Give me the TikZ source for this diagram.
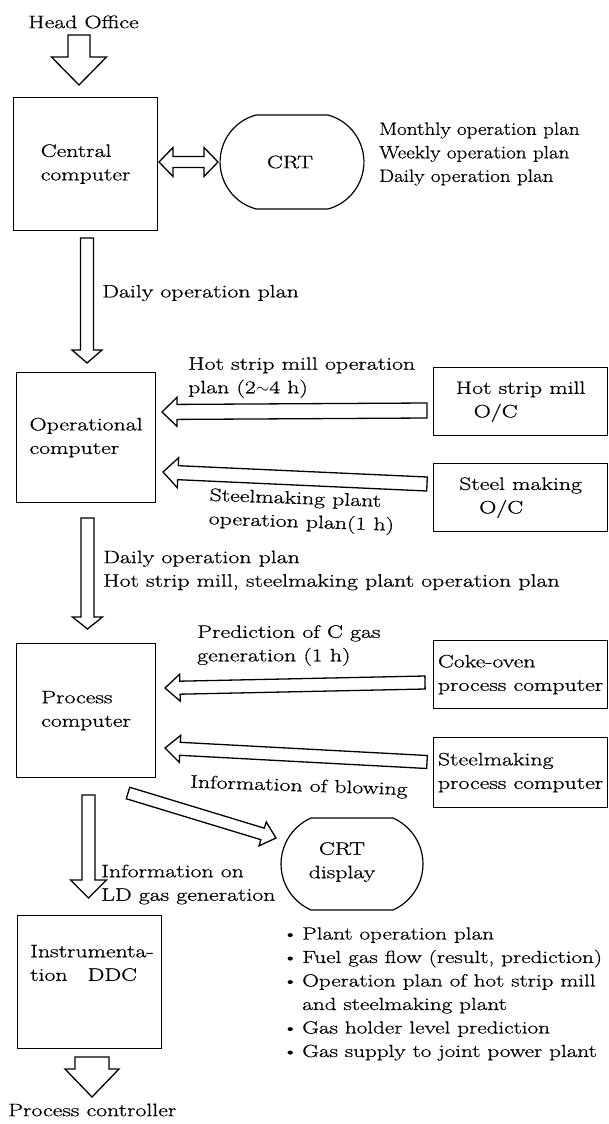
\documentclass[tikz,border=0pt]{standalone}
\usepackage{fontspec}
\setmainfont{Latin Modern Roman}[FakeStretch=1.32, FakeBold=0.7]
\newfontfamily\plansfont{Latin Modern Roman}[FakeStretch=1.17, FakeBold=0.7]
\usetikzlibrary{calc}

% block arrow: #1 tail, #2 tip, #3 shaft half width, #4 head half width, #5 head length
\newcommand\blockarr[5]{%
  \coordinate (bh) at ($(#2)!#5!(#1)$);
  \draw[barr] ($(#1)!#3!90:(#2)$) -- ($(bh)!#3!90:(#2)$) -- ($(bh)!#4!90:(#2)$) -- (#2)
    -- ($(bh)!#4!-90:(#2)$) -- ($(bh)!#3!-90:(#2)$) -- ($(#1)!#3!-90:(#2)$) -- cycle;}
% double-headed block arrow
\newcommand\dblarr[5]{%
  \coordinate (bha) at ($(#1)!#5!(#2)$);
  \coordinate (bhb) at ($(#2)!#5!(#1)$);
  \draw[barr] (#1) -- ($(bha)!#4!90:(#2)$) -- ($(bha)!#3!90:(#2)$) -- ($(bhb)!#3!90:(#2)$)
    -- ($(bhb)!#4!90:(#2)$) -- (#2) -- ($(bhb)!#4!-90:(#2)$) -- ($(bhb)!#3!-90:(#2)$)
    -- ($(bha)!#3!-90:(#2)$) -- ($(bha)!#4!-90:(#2)$) -- cycle;}
\newcommand\bdot{\raisebox{1pt}{\fontsize{14}{14}\selectfont\textbullet}}

\begin{document}
\begin{tikzpicture}[x=1pt,y=-1pt,
  font=\fontsize{18}{23.5}\selectfont,
  boxnode/.style={draw, line width=1.2pt, inner sep=0pt, align=left, anchor=north west},
  txt/.style={inner sep=0pt, align=left, anchor=west},
  barr/.style={draw, line width=1.3pt, line join=miter, fill=white},
  crtline/.style={draw, line width=1.2pt}]
\useasboundingbox (0,0) rectangle (608,1124);

% ---------- boxes ----------
\node[boxnode, minimum width=144pt, minimum height=133pt] (central) at (13,97) {Central\\computer};
\node[boxnode, minimum width=139pt, minimum height=130pt] (oper) at (16,372) {Operational\\computer};
\node[boxnode, minimum width=174pt, minimum height=68pt] (hsm) at (433,367) {Hot strip mill\\\hspace*{18pt}O/C};
\node[boxnode, minimum width=174pt, minimum height=68pt] (smk) at (433,463) {Steel making\\\hspace*{20pt}O/C};
\node[boxnode, minimum width=139pt, minimum height=134pt] (proc) at (16,643) {Process\\computer};
\node[boxnode, minimum width=174pt, minimum height=68pt] (coke) at (433,640) {Coke-oven\\process computer};
\node[boxnode, minimum width=174pt, minimum height=70pt] (smp) at (433,737) {Steelmaking\\process computer};
\node[boxnode, minimum width=144pt, minimum height=133pt] (instr) at (17,915) {};
\node[txt] (instrtxt) at (30,963) {Instrumenta-\\tion\hspace{20pt}DDC};

% ---------- CRT shapes ----------
\draw[crtline] (328,115) arc[start angle=-74.8, end angle=74.8, radius=48.7] -- (256,209)
  arc[start angle=105.2, end angle=254.8, radius=48.7] -- cycle;
\node[inner sep=0pt] (crt) at (290,162) {CRT};
\draw[crtline] (393,818) arc[start angle=-66.2, end angle=66.2, radius=50.27] -- (311,910)
  arc[start angle=113.8, end angle=246.2, radius=50.27] -- cycle;
\node[inner sep=0pt, align=center] (crtd) at (342,862) {CRT\\display};

% ---------- texts ----------
\node[txt] (head) at (28,22) {Head Office};
\node[txt, font=\fontsize{18}{23.5}\plansfont] (plans) at (379,154) {Monthly operation plan\\Weekly operation plan\\Daily operation plan};
\node[txt] (daily1) at (102,293) {Daily operation plan};
\node[txt] (hsmlab) at (188,377.5) {Hot strip mill operation\\plan (2$\sim$4 h)};
\node[txt, rotate=-2] (smklab) at (209,508.5) {Steelmaking plant\\operation plan(1 h)};
\node[txt] (daily2) at (103,570.5) {Daily operation plan\\Hot strip mill, steelmaking plant operation plan};
\node[txt] (cokelab) at (197,645.5) {Prediction of C gas\\generation (1 h)};
\node[txt, rotate=-2] (blowlab) at (190,783) {Information of blowing};
\node[txt] (ldlab) at (101,884.5) {Information on\\LD gas generation};
\node[txt, font=\fontsize{17.5}{23.5}\selectfont] (bullets) at (283,993.5) {\begin{tabular}{@{}l@{\hspace{5pt}}l@{}}
\bdot & Plant operation plan\\
\bdot & Fuel gas flow (result, prediction)\\
\bdot & Operation plan of hot strip mill\\
      & and steelmaking plant\\
\bdot & Gas holder level prediction\\
\bdot & Gas supply to joint power plant
\end{tabular}};
\node[txt] (pc) at (8,1110) {Process controller};

% ---------- arrow end points ----------
\coordinate (a0s) at (79,35);    \coordinate (a0e) at (79,85);
\coordinate (dbs) at (159,162);  \coordinate (dbe) at (218,162);
\coordinate (d1s) at (87,238);   \coordinate (d1e) at (87,363);
\coordinate (hss) at (427,410.5);\coordinate (hse) at (162,412);
\coordinate (sms) at (427,484);  \coordinate (sme) at (163,472);
\coordinate (d2s) at (87.5,518); \coordinate (d2e) at (87.5,629);
\coordinate (cks) at (425,682.5);\coordinate (cke) at (165,688);
\coordinate (bls) at (427,762);  \coordinate (ble) at (165,748);
\coordinate (dgs) at (128,793);  \coordinate (dge) at (276,838);
\coordinate (d3s) at (88.5,795); \coordinate (d3e) at (88.5,898);
\coordinate (d4s) at (92,1057);  \coordinate (d4e) at (92,1097);

% ---------- block arrows ----------
\blockarr{a0s}{a0e}{11pt}{27.5pt}{28pt}
\dblarr{dbs}{dbe}{5.5pt}{14.5pt}{14pt}
\blockarr{d1s}{d1e}{6.5pt}{15pt}{13pt}
\blockarr{hss}{hse}{7.5pt}{14.5pt}{15pt}
\blockarr{sms}{sme}{7pt}{15pt}{15pt}
\blockarr{d2s}{d2e}{6.5pt}{15pt}{12pt}
\blockarr{cks}{cke}{6.5pt}{13.5pt}{15pt}
\blockarr{bls}{ble}{6.5pt}{13.5pt}{15pt}
\blockarr{dgs}{dge}{6pt}{12.5pt}{14pt}
\blockarr{d3s}{d3e}{6.5pt}{18pt}{18pt}
\blockarr{d4s}{d4e}{17pt}{27pt}{28pt}
\end{tikzpicture}
\end{document}
